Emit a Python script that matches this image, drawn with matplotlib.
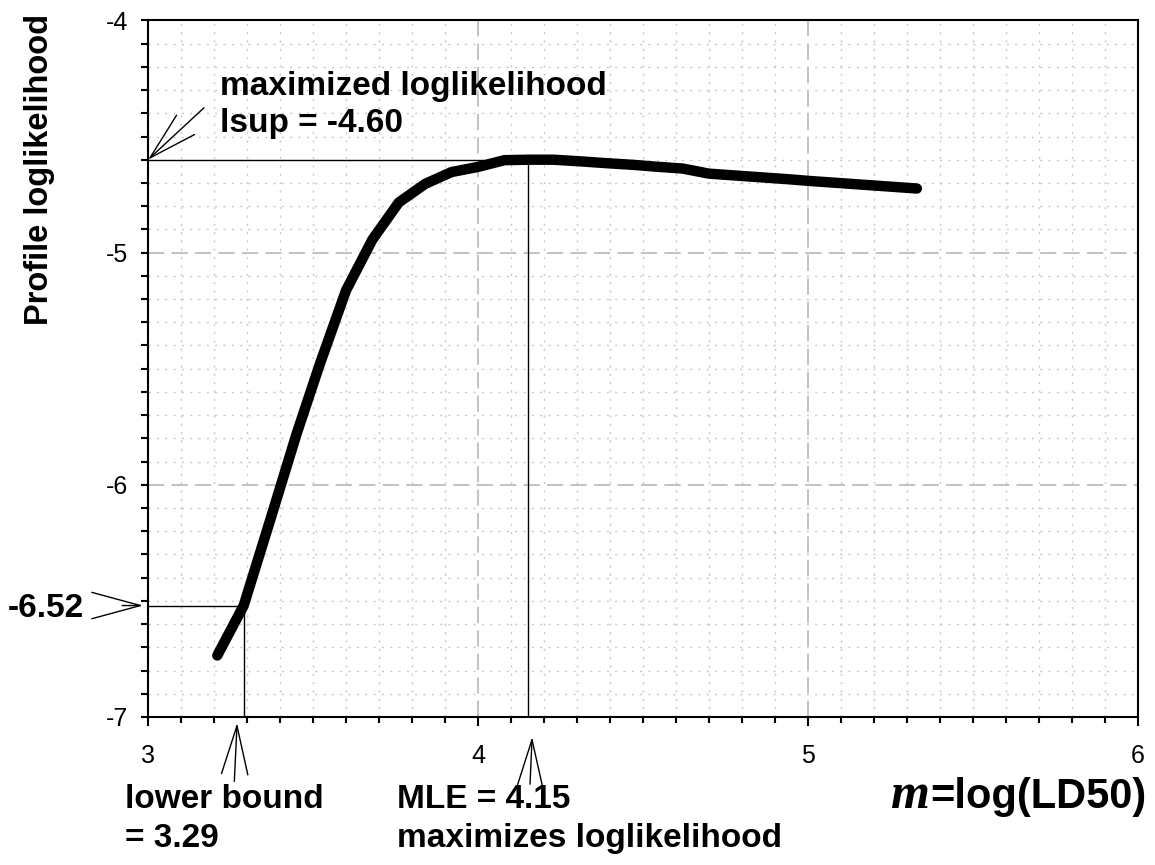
import matplotlib
matplotlib.use("Agg")
import matplotlib.pyplot as plt
from matplotlib.ticker import FixedLocator, MultipleLocator

# ---- data ----
mu = [3.21, 3.29, 3.37, 3.45, 3.52, 3.60, 3.68, 3.76, 3.84, 3.92, 4.00, 4.08, 4.15,
      4.23, 4.31, 4.39, 4.47, 4.54, 4.62, 4.70, 4.78, 4.86, 4.94, 5.01, 5.09,
      5.17, 5.25, 5.33]
profile_ll = [-6.735, -6.52, -6.153, -5.782, -5.483, -5.163, -4.944, -4.784, -4.704,
              -4.653, -4.631, -4.602, -4.600,
              -4.600, -4.607, -4.615, -4.622, -4.630, -4.638, -4.660, -4.668, -4.676,
              -4.684, -4.692, -4.700, -4.708, -4.716, -4.724]
lsup = -4.60
mle = 4.15
cutoff = -6.52
lower_bound = 3.29
x_ticks = [3, 4, 5, 6]
x_ticklabels = ["3", "4", "5", "6"]
y_ticks = [-4, -5, -6, -7]
y_ticklabels = ["-4", "-5", "-6", "-7"]

FONT = "Liberation Sans"
plt.rcParams["font.family"] = [FONT, "DejaVu Sans"]

fig = plt.figure(figsize=(11.55, 8.65), dpi=100)
ax = fig.add_axes([148 / 1155, 1 - 717 / 865, (1138 - 148) / 1155, (717 - 20.4) / 865])
ax.set_xlim(3, 6)
ax.set_ylim(-7, -4)

# grid
ax.set_axisbelow(True)
ax.xaxis.set_major_locator(FixedLocator(x_ticks))
ax.yaxis.set_major_locator(FixedLocator(y_ticks))
ax.xaxis.set_minor_locator(MultipleLocator(0.1))
ax.yaxis.set_minor_locator(MultipleLocator(0.1))
ax.set_xticklabels(x_ticklabels)
ax.set_yticklabels(y_ticklabels)
ax.grid(which="major", color="#bdbdbd", linestyle=(0, (9, 4)), linewidth=1.3)
ax.grid(which="minor", color="#c8c8c8", linestyle=(0, (1.5, 4.5)), linewidth=1.0)

for s in ax.spines.values():
    s.set_linewidth(1.5)
    s.set_color("black")

ax.tick_params(axis="x", which="major", direction="out", length=6.5, width=1.5,
               pad=13, labelsize=18)
ax.tick_params(axis="x", which="minor", direction="out", length=4, width=1.5)
ax.tick_params(axis="y", which="both", direction="out", length=5, width=1.5)
ax.tick_params(axis="y", which="major", pad=9, labelsize=18)

# reference lines
ax.plot([3, mle], [lsup, lsup], color="black", lw=1.0, zorder=3)
ax.plot([mle, mle], [lsup, -7], color="black", lw=1.0, zorder=3)
ax.plot([3, lower_bound], [cutoff, cutoff], color="black", lw=1.0, zorder=3)
ax.plot([lower_bound, lower_bound], [cutoff, -7], color="black", lw=1.0, zorder=3)

# profile curve
ax.plot(mu, profile_ll, color="black", lw=7.5, solid_capstyle="round",
        solid_joinstyle="round", zorder=4)

# annotations
bold = dict(fontsize=24, fontweight="bold", family=[FONT, "DejaVu Sans"], color="black")
ax.text(3.218, -4.321, "maximized loglikelihood", ha="left", va="baseline", **bold)
ax.text(3.218, -4.481, "lsup = -4.60", ha="left", va="baseline", **bold)
ax.text(2.576, -6.570, "-6.52", ha="left", va="baseline", **bold)
ax.text(2.930, -7.393, "lower bound", ha="left", va="baseline", **bold)
ax.text(2.930, -7.561, "= 3.29", ha="left", va="baseline", **bold)
ax.text(3.755, -7.393, "MLE = 4.15", ha="left", va="baseline", **bold)
ax.text(3.755, -7.561, "maximizes loglikelihood", ha="left", va="baseline", **bold)

arrow = dict(arrowstyle="->,head_length=3.5,head_width=0.95", lw=1.0, color="black",
             shrinkA=0, shrinkB=0, mutation_scale=10)
ax.annotate("", xy=(3.0, lsup), xytext=(40.3, 37.4), textcoords="offset points",
            arrowprops=arrow, annotation_clip=False)
ax.annotate("", xy=(2.985, cutoff), xytext=(-15, 0), textcoords="offset points",
            arrowprops=arrow, annotation_clip=False)
ax.annotate("", xy=(3.27, -7.026), xytext=(-2, -42), textcoords="offset points",
            arrowprops=arrow, annotation_clip=False)
ax.annotate("", xy=(4.164, -7.086), xytext=(-1.5, -34), textcoords="offset points",
            arrowprops=arrow, annotation_clip=False)

# x label: bold-italic m followed by "=log(LD50)"
fig.text(929 / 1155, 1 - 808 / 865, "m", ha="right", va="baseline",
         fontsize=36, fontweight="bold", fontstyle="italic",
         family=["Liberation Serif", "DejaVu Serif"])
fig.text(1147 / 1155, 1 - 808 / 865, "=log(LD50)", ha="right", va="baseline",
         fontsize=30, fontweight="bold", family=[FONT, "DejaVu Sans"])

# y label
fig.text(40 / 1155, 1 - 14 / 865, "Profile loglikelihood", rotation=90,
         ha="center", va="top", fontsize=23.5, fontweight="bold",
         family=[FONT, "DejaVu Sans"])

fig.savefig("out.png", dpi=100)
